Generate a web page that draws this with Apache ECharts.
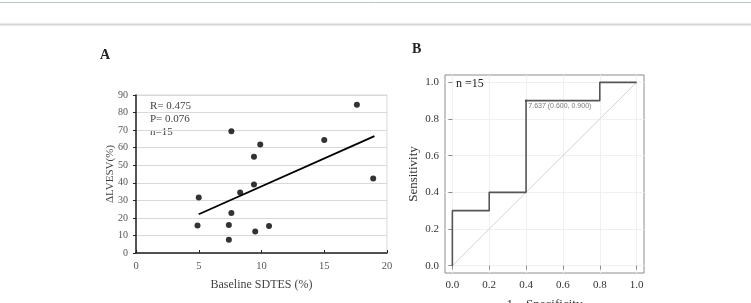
<!DOCTYPE html>
<html>
<head>
<meta charset="utf-8">
<script src="https://cdn.jsdelivr.net/npm/echarts@6/dist/echarts.min.js"></script>
<style>
  html, body { margin: 0; padding: 0; background: #fff; }
  #main { width: 751px; height: 303px; }
</style>
</head>
<body>
<div id="main"></div>
<script>
  // 图A：散点数据 (Baseline SDTES %, ΔLVESV %)
  var sdtes = [5.0, 4.9, 7.6, 7.4, 7.6, 7.4, 8.3, 9.4, 9.4, 9.9, 9.5, 10.6, 15.0, 17.6, 18.9];
  var dLvesv = [31.6, 15.6, 69.4, 16.0, 22.8, 7.6, 34.4, 54.8, 39.0, 61.8, 12.2, 15.4, 64.3, 84.5, 42.4];
  // 回归线两端
  var fitX = [5.0, 19.0];
  var fitY = [22.1, 66.6];
  var statsText = ['R= 0.475', 'P= 0.076', 'n=15'];

  // 图B：ROC 曲线
  var fpr = [0, 0, 0.2, 0.2, 0.4, 0.4, 0.8, 0.8, 1.0];
  var tpr = [0, 0.3, 0.3, 0.4, 0.4, 0.9, 0.9, 1.0, 1.0];
  var diagX = [0, 1];
  var diagY = [0, 1];
  var cutPoint = [0.4, 0.9];
  var cutLabel = '7.637 (0.600, 0.900)';
  var rocTicks = [0, 0.2, 0.4, 0.6, 0.8, 1.0];

  var serif = '"Liberation Serif", "DejaVu Serif", serif';

  var chart = echarts.init(document.getElementById('main'));

  var option = {
    backgroundColor: '#fff',
    animation: false,
    textStyle: { fontFamily: serif },
    grid: [
      { left: 136, top: 95, width: 251, height: 158, outerBoundsMode: 'none', show: true, borderColor: '#d9d9d9', borderWidth: 1 },
      { left: 445, top: 75, width: 199, height: 198, outerBoundsMode: 'none', show: true, borderColor: '#8c8c8c', borderWidth: 1 }
    ],
    xAxis: [
      {
        gridIndex: 0, type: 'value', min: 0, max: 20, interval: 5,
        name: 'Baseline SDTES (%)', nameLocation: 'middle', nameGap: 26, nameMoveOverlap: false,
        nameTextStyle: { fontFamily: serif, fontSize: 12, color: '#444' },
        axisLine: { lineStyle: { color: '#222', width: 1.5 } },
        axisTick: { show: true, inside: true, length: 3, lineStyle: { color: '#222' } },
        axisLabel: { fontFamily: serif, fontSize: 10.5, color: '#555', margin: 8 },
        splitLine: { show: false }
      },
      {
        gridIndex: 1, type: 'value', min: -0.04, max: 1.04,
        name: '1－Specificity', nameLocation: 'middle', nameGap: 25, nameMoveOverlap: false,
        nameTextStyle: { fontFamily: serif, fontSize: 13, color: '#333' },
        axisLine: { show: false },
        axisTick: { show: true, length: 4, customValues: rocTicks, lineStyle: { color: '#8c8c8c' } },
        axisLabel: {
          fontFamily: serif, fontSize: 11, color: '#333', margin: 7,
          customValues: rocTicks,
          formatter: function (v) { return v.toFixed(1); }
        },
        splitLine: { show: true, lineStyle: { color: '#f0f0f0', width: 1 } }
      }
    ],
    yAxis: [
      {
        gridIndex: 0, type: 'value', min: 0, max: 90, interval: 10,
        axisLine: { show: true, lineStyle: { color: '#222', width: 1.5 } },
        axisTick: { show: true, length: 3, lineStyle: { color: '#222' } },
        axisLabel: { fontFamily: serif, fontSize: 10, color: '#555', margin: 8 },
        splitLine: { show: true, lineStyle: { color: '#d9d9d9', width: 1 } }
      },
      {
        gridIndex: 1, type: 'value', min: -0.04, max: 1.04,
        name: 'Sensitivity', nameLocation: 'middle', nameGap: 25, nameMoveOverlap: false,
        nameTextStyle: { fontFamily: serif, fontSize: 13, color: '#333' },
        axisLine: { show: false },
        axisTick: { show: true, length: 4, customValues: rocTicks, lineStyle: { color: '#8c8c8c' } },
        axisLabel: {
          fontFamily: serif, fontSize: 11, color: '#333', margin: 6,
          customValues: rocTicks,
          formatter: function (v) { return v.toFixed(1); }
        },
        splitLine: { show: true, lineStyle: { color: '#f0f0f0', width: 1 } }
      }
    ],
    series: [
      {
        type: 'scatter', xAxisIndex: 0, yAxisIndex: 0,
        symbolSize: 6,
        itemStyle: { color: '#000' },
        data: sdtes.map(function (x, i) { return [x, dLvesv[i]]; })
      },
      {
        type: 'line', xAxisIndex: 0, yAxisIndex: 0,
        symbol: 'none',
        lineStyle: { color: '#000', width: 1.8 },
        data: fitX.map(function (x, i) { return [x, fitY[i]]; })
      },
      {
        type: 'line', xAxisIndex: 1, yAxisIndex: 1,
        symbol: 'none',
        lineStyle: { color: '#d4d4d4', width: 1 },
        data: diagX.map(function (x, i) { return [x, diagY[i]]; })
      },
      {
        type: 'line', xAxisIndex: 1, yAxisIndex: 1,
        symbol: 'none',
        lineStyle: { color: '#555', width: 1.6 },
        data: fpr.map(function (x, i) { return [x, tpr[i]]; })
      },
      {
        type: 'scatter', xAxisIndex: 1, yAxisIndex: 1,
        symbolSize: 2.5,
        itemStyle: { color: '#333' },
        label: {
          show: true, position: 'right', distance: 1, offset: [0, 5],
          formatter: cutLabel,
          fontFamily: '"Liberation Sans", Arial, sans-serif', fontSize: 7, color: '#555'
        },
        data: [cutPoint]
      }
    ],
    graphic: [
      { type: 'line', shape: { x1: 0, y1: 2.5, x2: 751, y2: 2.5 }, style: { stroke: '#b9c6be', lineWidth: 1 } },
      { type: 'line', shape: { x1: 0, y1: 24.5, x2: 751, y2: 24.5 }, style: { stroke: '#d4d4d4', lineWidth: 2 } },
      { type: 'text', left: 100, top: 48, style: { text: 'A', font: 'bold 14px ' + serif, fill: '#222' } },
      { type: 'text', left: 412, top: 42, style: { text: 'B', font: 'bold 14px ' + serif, fill: '#222' } },
      {
        // 图A纵轴标题
        type: 'text', x: 110, y: 174, rotation: Math.PI / 2,
        style: { text: 'ΔLVESV(%)', font: '11px ' + serif, fill: '#444', align: 'center', verticalAlign: 'middle' }
      },
      {
        type: 'text', left: 150, top: 100,
        style: { text: statsText.join('\n'), font: '11px ' + serif, fill: '#444', lineHeight: 13 }
      },
      { type: 'text', left: 456, top: 78, z: 10, style: { text: 'n =15', font: '12px ' + serif, fill: '#222' } }
    ]
  };

  option && chart.setOption(option);
</script>
</body>
</html>
